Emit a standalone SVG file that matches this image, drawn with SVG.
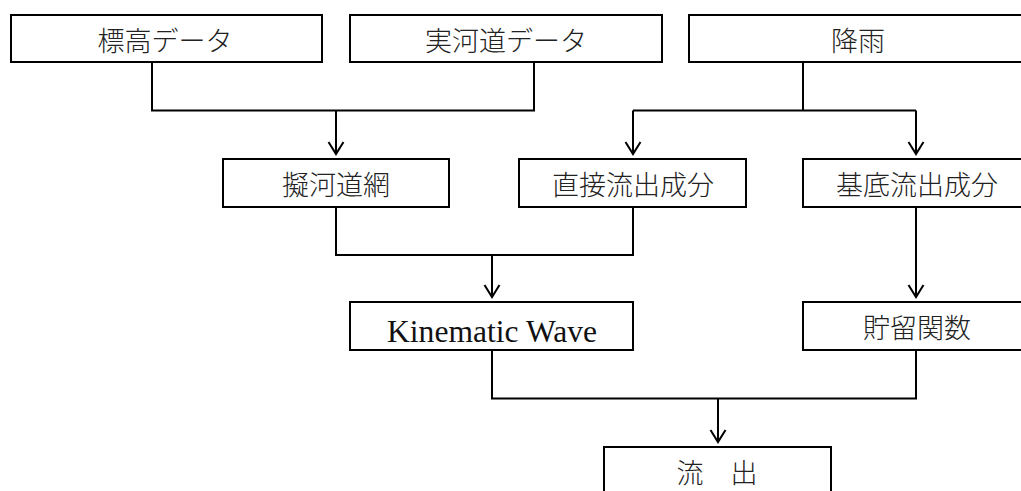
<svg xmlns="http://www.w3.org/2000/svg" width="1021" height="491" viewBox="0 0 1021 491">
  <style>
    .box { fill: #ffffff; stroke: #000000; stroke-width: 2; }
    .jp { font-family: "Liberation Serif", "Noto Sans CJK JP", serif; font-size: 27px; font-weight: 300; fill: #222222; text-anchor: middle; dominant-baseline: central; }
    .en { font-family: "Liberation Serif", serif; font-size: 31px; fill: #111111; text-anchor: middle; }
    .conn { fill: none; stroke: #000000; stroke-width: 2; }
    .arr { fill: none; stroke: #000000; stroke-width: 2; marker-end: url(#arrow); }
  </style>
  <defs>
    <marker id="arrow" viewBox="-14 -10 16 20" markerWidth="16" markerHeight="20" refX="0" refY="0" markerUnits="userSpaceOnUse" orient="auto">
      <path d="M-12,-7.5 L0,0 L-12,7.5" fill="none" stroke="#000000" stroke-width="2"/>
    </marker>
  </defs>
  <rect width="1021" height="491" fill="#ffffff"/>

  <g id="connectors">
    <path class="conn" d="M152 62 V110.5 H534 V62"/>
    <path class="arr" d="M336 110.5 V154"/>
    <path class="conn" d="M803 62 V110.5"/>
    <path class="conn" d="M633 110.5 H916"/>
    <path class="arr" d="M633 110.5 V154"/>
    <path class="arr" d="M916 110.5 V154"/>
    <path class="conn" d="M336 207 V255 H633 V207"/>
    <path class="arr" d="M492 255 V297"/>
    <path class="arr" d="M916 207 V297"/>
    <path class="conn" d="M492 350 V398.5 H916 V350"/>
    <path class="arr" d="M718 398.5 V442"/>
  </g>

  <g id="node-elevation">
    <rect class="box" x="11" y="15" width="311" height="47"/>
    <text class="jp" x="165" y="42">標高データ</text>
  </g>
  <g id="node-river-data">
    <rect class="box" x="350" y="15" width="312" height="47"/>
    <text class="jp" x="506" y="42">実河道データ</text>
  </g>
  <g id="node-rain">
    <rect class="box" x="689" y="15" width="338" height="47"/>
    <text class="jp" x="858" y="42">降雨</text>
  </g>
  <g id="node-pseudo-river">
    <rect class="box" x="223" y="159" width="226" height="48"/>
    <text class="jp" x="336" y="186">擬河道網</text>
  </g>
  <g id="node-direct-runoff">
    <rect class="box" x="519" y="159" width="227" height="48"/>
    <text class="jp" x="633" y="186">直接流出成分</text>
  </g>
  <g id="node-base-runoff">
    <rect class="box" x="803" y="159" width="229" height="48"/>
    <text class="jp" x="917" y="186">基底流出成分</text>
  </g>
  <g id="node-kinematic">
    <rect class="box" x="350" y="302" width="283" height="48"/>
    <text class="en" x="492" y="342" textLength="210" lengthAdjust="spacingAndGlyphs">Kinematic Wave</text>
  </g>
  <g id="node-storage">
    <rect class="box" x="803" y="302" width="228" height="48"/>
    <text class="jp" x="917" y="329">貯留関数</text>
  </g>
  <g id="node-outflow">
    <rect class="box" x="604" y="447" width="227" height="60"/>
    <text class="jp" x="717" y="474">流　出</text>
  </g>
</svg>
